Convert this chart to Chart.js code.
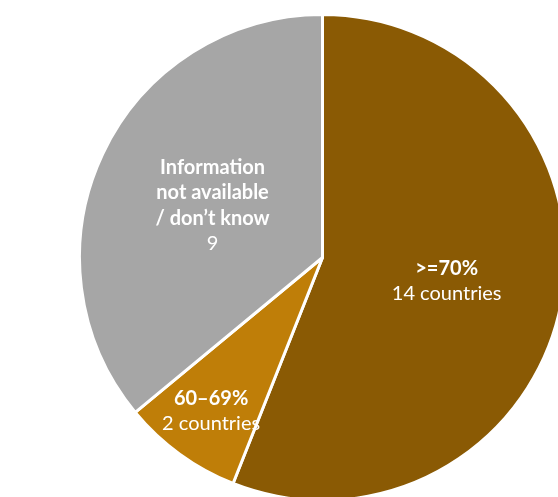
<!DOCTYPE html>
<html>
<head>
<meta charset="utf-8">
<script src="https://cdn.jsdelivr.net/npm/chart.js@4"></script>
<style>
  html, body { margin: 0; padding: 0; background: #fff; overflow: hidden; }
  body { width: 558px; height: 497px; position: relative; }
  #wrap { position: absolute; left: 78px; top: 13px; width: 489px; height: 489px; }
</style>
</head>
<body>
<div id="wrap"><canvas id="pie-chart"></canvas></div>
<script>
const categories = ['>=70%', '60\u201369%', 'Information\nnot available\n/ don\u2019t know'];
const counts = [14, 2, 9];
const countLabels = ['14 countries', '2 countries', '9'];
const colors = ['#8A5A04', '#BF7E08', '#A6A6A6'];

// where each label sits along its slice, as a fraction of the radius
const labelRadius = [0.52, 0.78, 0.5];

const sliceLabels = {
  id: 'sliceLabels',
  afterDatasetsDraw(chart) {
    const ctx = chart.ctx;
    const meta = chart.getDatasetMeta(0);
    ctx.save();
    ctx.fillStyle = '#fff';
    ctx.textAlign = 'center';
    ctx.textBaseline = 'middle';
    meta.data.forEach(function(arc, i) {
      const mid = (arc.startAngle + arc.endAngle) / 2;
      const r = arc.outerRadius * labelRadius[i];
      const x = arc.x + Math.cos(mid) * r;
      const y = arc.y + Math.sin(mid) * r;
      const lines = categories[i].split('\n');
      const lh = 25.5;
      const total = lines.length + 1;
      let y0 = y - (total - 1) * lh / 2;
      ctx.font = 'bold 20px Lato';
      lines.forEach(function(line, k) {
        ctx.fillText(line, x, y0 + k * lh);
      });
      ctx.font = '20px Lato';
      ctx.fillText(countLabels[i], x, y0 + lines.length * lh);
    });
    ctx.restore();
  }
};

new Chart(document.getElementById('pie-chart'), {
  type: 'pie',
  data: {
    labels: categories,
    datasets: [{
      data: counts,
      backgroundColor: colors,
      borderColor: '#fff',
      borderWidth: 3
    }]
  },
  options: {
    responsive: true,
    maintainAspectRatio: false,
    animation: false,
    layout: { padding: 0 },
    plugins: {
      legend: { display: false },
      tooltip: { enabled: false }
    }
  },
  plugins: [sliceLabels]
});
</script>
</body>
</html>
